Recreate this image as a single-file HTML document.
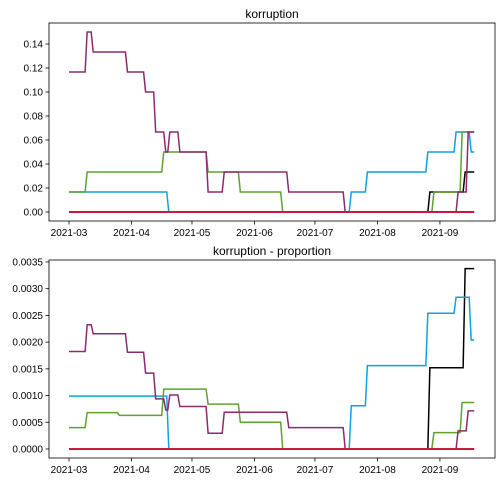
<!DOCTYPE html>
<html><head><meta charset="utf-8"><style>
html,body{margin:0;padding:0;background:#fff;}
svg{display:block;font-family:"Liberation Sans","DejaVu Sans",sans-serif;}
</style></head><body>
<svg id="chart" width="502" height="482"></svg>
<script>
// x in days since 2021-03-01
const xTickLabels = ["2021-03","2021-04","2021-05","2021-06","2021-07","2021-08","2021-09"];
const xTickDays = [0,31,61,92,122,153,184];
const endDay = 201;
const seriesNames = ["black","blue","green","purple","red"];
const seriesColors = ["#000000","#0ea1df","#5ea32e","#8b2a6e","#c8183c"];

// top panel: counts (x 1/60)
const topBlackDays = [0,179,196.5];
const topBlackVals = [0,1,2];
const topBlueDays = [0,49.5,140,148,178,192,199.5];
const topBlueVals = [1,0,1,2,3,4,3];
const topGreenDays = [0,9,47,69,85,106,181,195];
const topGreenVals = [1,2,3,2,1,0,1,4];
const topPurpleDays = [0,9,12,29,38,43,48,50,55,69,77,109,137,193,198];
const topPurpleVals = [7,9,8,7,6,4,3,4,3,1,2,1,0,1,4];
const topRedDays = [0];
const topRedVals = [0];
const topTicks = [0,0.02,0.04,0.06,0.08,0.10,0.12,0.14];
const topTickLabels = ["0.00","0.02","0.04","0.06","0.08","0.10","0.12","0.14"];

// bottom panel: proportion
const botBlackDays = [0,179,196.5];
const botBlackVals = [0,0.00152,0.003375];
const botBlueDays = [0,49.5,140,148,178,192,199.5];
const botBlueVals = [0.00099,0,0.00081,0.00156,0.00254,0.00284,0.00204];
const botGreenDays = [0,9,25,47,69,85,106,181,195];
const botGreenVals = [0.0004,0.00068,0.00063,0.00112,0.00084,0.0005,0,0.000306,0.00087];
const botPurpleDays = [0,9,12,29,38,43,48,50,55,69,77,109,137,193,198];
const botPurpleVals = [0.001825,0.002325,0.002156,0.00181,0.00142,0.000938,0.00073,0.00101,0.000794,0.000294,0.000688,0.0004,0,0.00034,0.000713];
const botRedDays = [0];
const botRedVals = [0];
const botTicks = [0,0.0005,0.001,0.0015,0.002,0.0025,0.003,0.0035];
const botTickLabels = ["0.0000","0.0005","0.0010","0.0015","0.0020","0.0025","0.0030","0.0035"];

const NS="http://www.w3.org/2000/svg";
const svg=document.getElementById('chart');
function mk(tag,attrs,parent){const e=document.createElementNS(NS,tag);for(const k in attrs)e.setAttribute(k,attrs[k]);(parent||svg).appendChild(e);return e;}
const xScale=d=>69+d*2.016;

function panel(title,top,bottom,ymin,ymax,ticks,labels,series,prefix){
  const L=49,R=495;
  const y=v=>bottom-(v-ymin)/(ymax-ymin)*(bottom-top);
  const g=mk('g',{});
  
  
  const t=mk('text',{x:(L+R)/2,y:top-5,'text-anchor':'middle','font-size':12,fill:'#000'},g);
  t.textContent=title;
  
  
  ticks.forEach((v,i)=>{
    const yy=y(v);
    mk('line',{x1:L-3.5,x2:L,y1:yy,y2:yy,stroke:'#000','stroke-width':0.8},g);
    const tl=mk('text',{x:L-6,y:yy+3.5,'text-anchor':'end','font-size':10,fill:'#000'},g);
    tl.textContent=labels[i];
    
    
  });
  xTickDays.forEach((d,i)=>{
    const xx=xScale(d);
    mk('line',{x1:xx,x2:xx,y1:bottom,y2:bottom+3.5,stroke:'#000','stroke-width':0.8},g);
    const tl=mk('text',{x:xx,y:bottom+15,'text-anchor':'middle','font-size':10,fill:'#000'},g);
    tl.textContent=xTickLabels[i];
    
    
  });
  series.forEach((s,si)=>{
    const [days,vals]=s;
    const pts=[];
    for(let i=0;i<days.length;i++){
      const next=i+1<days.length?days[i+1]-1:endDay;
      pts.push(xScale(days[i])+','+y(vals[i]));
      pts.push(xScale(next)+','+y(vals[i]));
    }
    const p=mk('polyline',{points:pts.join(' '),fill:'none',stroke:seriesColors[si],'stroke-width':si==4?2:1.5},g);
    
    
  });
  const f=mk('rect',{x:L,y:top,width:R-L,height:bottom-top,fill:'none',stroke:'#000','stroke-width':0.8},g);
  
  
}
panel('korruption',23,221,-0.0075,0.1575,topTicks,topTickLabels,
  [[topBlackDays,topBlackVals.map(v=>v/60)],[topBlueDays,topBlueVals.map(v=>v/60)],[topGreenDays,topGreenVals.map(v=>v/60)],[topPurpleDays,topPurpleVals.map(v=>v/60)],[topRedDays,topRedVals]],'top');
panel('korruption - proportion',260,458,-0.0001687,0.003537,botTicks,botTickLabels,
  [[botBlackDays,botBlackVals],[botBlueDays,botBlueVals],[botGreenDays,botGreenVals],[botPurpleDays,botPurpleVals],[botRedDays,botRedVals]],'bottom');
</script>
</body></html>
